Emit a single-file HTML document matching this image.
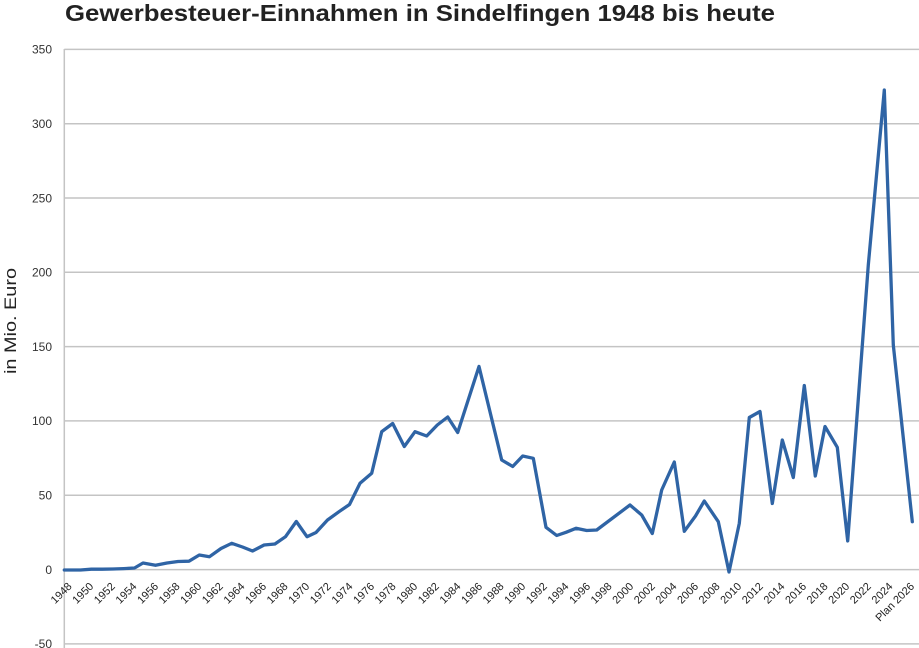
<!DOCTYPE html>
<html>
<head>
<meta charset="utf-8">
<style>
  html,body{margin:0;padding:0;background:#fff;}
  svg{display:block;}
  text{font-family:"Liberation Sans", sans-serif;}
</style>
</head>
<body>
<svg width="919" height="648" viewBox="0 0 919 648" xmlns="http://www.w3.org/2000/svg">
  <rect width="919" height="648" fill="#fff"/>
  <!-- title -->
  <text x="65" y="21" font-size="23" font-weight="bold" fill="#222" textLength="710" lengthAdjust="spacingAndGlyphs">Gewerbesteuer-Einnahmen in Sindelfingen 1948 bis heute</text>

  <!-- y-axis title -->
  <text transform="translate(16,321) rotate(-90)" font-size="16.5" fill="#222" text-anchor="middle" textLength="106" lengthAdjust="spacingAndGlyphs">in Mio. Euro</text>

  <!-- gridlines -->
  <g stroke="#c4c4c4" stroke-width="1.5">
    <line x1="64.3" y1="49.4" x2="919" y2="49.4"/>
    <line x1="64.3" y1="123.7" x2="919" y2="123.7"/>
    <line x1="64.3" y1="198" x2="919" y2="198"/>
    <line x1="64.3" y1="272.3" x2="919" y2="272.3"/>
    <line x1="64.3" y1="346.6" x2="919" y2="346.6"/>
    <line x1="64.3" y1="420.9" x2="919" y2="420.9"/>
    <line x1="64.3" y1="495.3" x2="919" y2="495.3"/>
    <line x1="64.3" y1="569.6" x2="919" y2="569.6"/>
    <line x1="64.3" y1="643.9" x2="919" y2="643.9"/>
    <line x1="64.3" y1="49" x2="64.3" y2="648"/>
  </g>

  <!-- y tick labels -->
  <g font-size="12" fill="#333" text-anchor="end">
    <text x="52" y="53.7">350</text>
    <text x="52" y="128">300</text>
    <text x="52" y="202.3">250</text>
    <text x="52" y="276.6">200</text>
    <text x="52" y="350.9">150</text>
    <text x="52" y="425.2">100</text>
    <text x="52" y="499.6">50</text>
    <text x="52" y="573.9">0</text>
    <text x="52" y="648.2">-50</text>
  </g>

  <!-- data line -->
  <polyline fill="none" stroke="#2f64a5" stroke-width="3.3" stroke-linejoin="round" stroke-linecap="round"
    points="64.3,570 69.7,570 80.5,570 91.3,569.2 102.1,569.2 112.9,569 123.7,568.6 134.5,568 143,563 155.5,565.3 167,563 178,561.5 189,561.2 199.3,555 209.5,556.7 221,548.5 231.7,543.3 242.5,547 252.5,551 264.1,545 274.9,544 285.5,536.7 296.3,521.5 307,536.7 316,532.5 327.5,520 339,511.7 349.5,504.5 360,483.3 371.7,473.3 381.7,431.7 392.7,423.5 404.3,446.5 415,431.7 426.7,436 437.3,425 447.7,417 457.7,432.5 479,366.5 501.7,460 512.7,466.5 522.7,456 533.3,458.3 546,527.3 556.7,535.5 566,532.3 576,528.3 586.7,530.5 596.7,530 630,505 641.7,515 652.3,533.5 661.7,490 674.3,462 684.3,531.3 695.5,516 704.3,501 718.3,521.7 729,572 739.3,523.3 749.3,417.5 760,411.5 772.3,503.5 782.3,440 793.3,477.5 804.3,385.5 815.3,476 825,426.5 837.3,447.3 847.7,541 868.3,265 884.3,90 893.3,345 912.3,521.7"/>

  <!-- x tick labels -->
  <g font-size="11" fill="#222" text-anchor="end">
    <text transform="translate(72.5,587) rotate(-45)">1948</text>
    <text transform="translate(94.1,587) rotate(-45)">1950</text>
    <text transform="translate(115.7,587) rotate(-45)">1952</text>
    <text transform="translate(137.3,587) rotate(-45)">1954</text>
    <text transform="translate(158.9,587) rotate(-45)">1956</text>
    <text transform="translate(180.5,587) rotate(-45)">1958</text>
    <text transform="translate(202.1,587) rotate(-45)">1960</text>
    <text transform="translate(223.7,587) rotate(-45)">1962</text>
    <text transform="translate(245.3,587) rotate(-45)">1964</text>
    <text transform="translate(266.9,587) rotate(-45)">1966</text>
    <text transform="translate(288.5,587) rotate(-45)">1968</text>
    <text transform="translate(310.1,587) rotate(-45)">1970</text>
    <text transform="translate(331.7,587) rotate(-45)">1972</text>
    <text transform="translate(353.3,587) rotate(-45)">1974</text>
    <text transform="translate(374.9,587) rotate(-45)">1976</text>
    <text transform="translate(396.5,587) rotate(-45)">1978</text>
    <text transform="translate(418.1,587) rotate(-45)">1980</text>
    <text transform="translate(439.7,587) rotate(-45)">1982</text>
    <text transform="translate(461.3,587) rotate(-45)">1984</text>
    <text transform="translate(482.9,587) rotate(-45)">1986</text>
    <text transform="translate(504.5,587) rotate(-45)">1988</text>
    <text transform="translate(526.1,587) rotate(-45)">1990</text>
    <text transform="translate(547.7,587) rotate(-45)">1992</text>
    <text transform="translate(569.3,587) rotate(-45)">1994</text>
    <text transform="translate(590.9,587) rotate(-45)">1996</text>
    <text transform="translate(612.5,587) rotate(-45)">1998</text>
    <text transform="translate(634.1,587) rotate(-45)">2000</text>
    <text transform="translate(655.7,587) rotate(-45)">2002</text>
    <text transform="translate(677.3,587) rotate(-45)">2004</text>
    <text transform="translate(698.9,587) rotate(-45)">2006</text>
    <text transform="translate(720.5,587) rotate(-45)">2008</text>
    <text transform="translate(742.1,587) rotate(-45)">2010</text>
    <text transform="translate(763.7,587) rotate(-45)">2012</text>
    <text transform="translate(785.3,587) rotate(-45)">2014</text>
    <text transform="translate(806.9,587) rotate(-45)">2016</text>
    <text transform="translate(828.5,587) rotate(-45)">2018</text>
    <text transform="translate(850.1,587) rotate(-45)">2020</text>
    <text transform="translate(871.7,587) rotate(-45)">2022</text>
    <text transform="translate(893.3,587) rotate(-45)">2024</text>
    <text transform="translate(914.9,587) rotate(-45)">Plan 2026</text>
  </g>
</svg>
</body>
</html>
